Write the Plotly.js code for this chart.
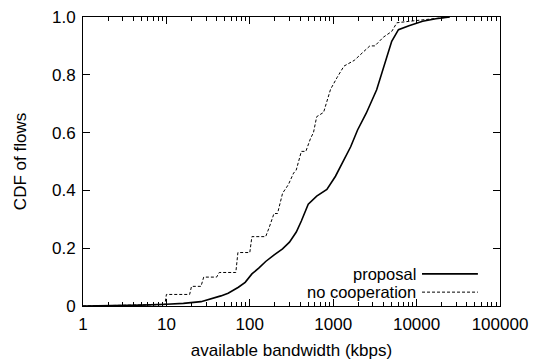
<!DOCTYPE html>
<html>
<head>
<meta charset="utf-8">
<script src="https://cdn.plot.ly/plotly-3.0.1.min.js"></script>
<style>html,body{margin:0;padding:0;background:#fff;}#chart{width:534px;height:360px;}</style>
</head>
<body>
<div id="chart"></div>
<script>
// proposal (solid)
const proposalX = [1, 2, 5, 10, 16, 26, 34, 45, 55, 73, 88, 106, 128, 155, 196, 247, 299, 361, 415, 502, 634, 840, 1065, 1345, 1620, 1960, 2490, 3320, 4200, 5030, 6060, 8100, 11800, 17000, 25000];
const proposalY = [0, 0.001, 0.003, 0.006, 0.009, 0.015, 0.024, 0.035, 0.044, 0.065, 0.082, 0.111, 0.131, 0.154, 0.177, 0.198, 0.221, 0.256, 0.294, 0.352, 0.380, 0.403, 0.449, 0.505, 0.551, 0.609, 0.667, 0.748, 0.840, 0.916, 0.956, 0.970, 0.985, 0.994, 1.0];
// no cooperation (dashed)
const noCoopX = [1, 5, 9.6, 10, 19, 20, 26, 28, 40, 43, 68, 72, 100, 106, 155, 170, 195, 215, 247, 290, 335, 360, 415, 470, 535, 580, 634, 767, 930, 1110, 1345, 1790, 2150, 2750, 3160, 3990, 5030, 5800, 8100, 11800, 17000, 25000];
const noCoopY = [0, 0.002, 0.005, 0.04, 0.04, 0.068, 0.068, 0.1, 0.1, 0.116, 0.116, 0.185, 0.185, 0.24, 0.24, 0.27, 0.32, 0.32, 0.39, 0.42, 0.46, 0.47, 0.535, 0.535, 0.58, 0.6, 0.655, 0.67, 0.75, 0.79, 0.83, 0.85, 0.87, 0.9, 0.9, 0.93, 0.95, 0.98, 0.985, 0.99, 0.995, 1.0];
const seriesNames = ["proposal", "no cooperation"];
const xTickVals = [1, 10, 100, 1000, 10000, 100000];
const xTickText = ["1", "10", "100", "1000", "10000", "100000"];
const yTickVals = [0, 0.2, 0.4, 0.6, 0.8, 1.0];
const yTickText = ["0", "0.2", "0.4", "0.6", "0.8", "1.0"];

const font = {family: "Liberation Sans, Arial, sans-serif", size: 17, color: "#000"};
const legendFont = {family: "Liberation Sans, Arial, sans-serif", size: 16.5, color: "#000"};

const traces = [
  {x: proposalX, y: proposalY, name: seriesNames[0], mode: "lines", line: {color: "#000", width: 1.6}, showlegend: false},
  {x: noCoopX, y: noCoopY, name: seriesNames[1], mode: "lines", line: {color: "#000", width: 1, dash: "3px,2px"}, showlegend: false}
];

const layout = {
  width: 534, height: 360,
  margin: {l: 83, r: 34, t: 17, b: 54},
  paper_bgcolor: "#fff", plot_bgcolor: "#fff",
  font: font,
  showlegend: false,
  xaxis: {
    type: "log", range: [0, 5],
    tickvals: xTickVals, ticktext: xTickText,
    ticks: "inside", ticklen: 7, tickcolor: "#000", tickwidth: 1,
    showline: true, linecolor: "#000", linewidth: 1, mirror: "allticks",
    showgrid: false, zeroline: false,
    minor: {ticks: "inside", ticklen: 4, tickcolor: "#000", dtick: "D1", showgrid: false},
    tickfont: font, ticklabelstandoff: 3,
    title: {text: "available bandwidth (kbps)", font: font, standoff: 11}
  },
  yaxis: {
    range: [0, 1],
    tickvals: yTickVals, ticktext: yTickText,
    ticks: "inside", ticklen: 7, tickcolor: "#000", tickwidth: 1,
    showline: true, linecolor: "#000", linewidth: 1, mirror: "allticks",
    showgrid: false, zeroline: false,
    tickfont: font, ticklabelstandoff: 3,
    title: {text: "CDF of flows", font: font, standoff: 21}
  },
  annotations: [
    {xref: "paper", yref: "paper", x: 0.803, y: 0.111, xanchor: "right", yanchor: "middle", text: seriesNames[0], showarrow: false, font: legendFont},
    {xref: "paper", yref: "paper", x: 0.803, y: 0.048, xanchor: "right", yanchor: "middle", text: seriesNames[1], showarrow: false, font: legendFont}
  ],
  shapes: [
    {type: "line", xref: "paper", yref: "paper", x0: 0.813, x1: 0.947, y0: 0.111, y1: 0.111, line: {color: "#000", width: 1.6}},
    {type: "line", xref: "paper", yref: "paper", x0: 0.813, x1: 0.947, y0: 0.048, y1: 0.048, line: {color: "#000", width: 1, dash: "3px,2px"}}
  ]
};

Plotly.newPlot("chart", traces, layout, {displayModeBar: false, staticPlot: true});
</script>
</body>
</html>
